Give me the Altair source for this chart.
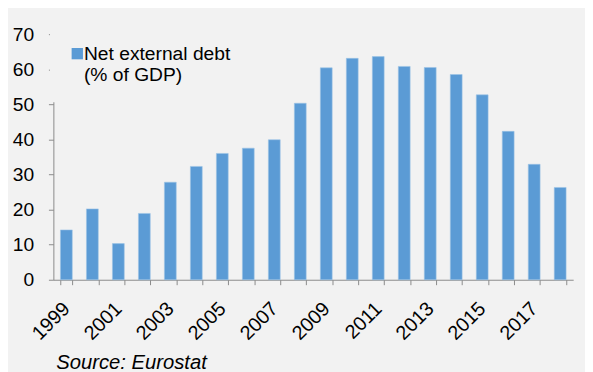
import altair as alt
import pandas as pd

# ---- data ----
years = [str(y) for y in range(1999, 2019)]
debt = [14.2, 20.2, 10.3, 18.9, 27.8, 32.3, 36.0, 37.5, 39.9, 50.3,
        60.4, 63.1, 63.6, 60.8, 60.5, 58.5, 52.7, 42.3, 32.9, 26.3]
series_name = "Net external debt (% of GDP)"
y_ticks = [0, 10, 20, 30, 40, 50, 60, 70]
source_text = "Source: Eurostat"

df = pd.DataFrame({"year": years, "value": debt, "series": [series_name] * len(years)})

FONT = "Liberation Sans"
BG = "#f2f2f2"
BAR = "#5b9bd5"
AXIS = "#8a8a8a"
TXT = "#000000"

chart = alt.Chart(df).mark_bar(color=BAR, stroke="#9cc3e6", strokeWidth=0.6).encode(
    x=alt.X(
        "year:O",
        scale=alt.Scale(paddingInner=0.545, paddingOuter=0.2725),
        axis=alt.Axis(
            title=None,
            labelAngle=-45,
            labelAlign="right",
            labelBaseline="middle",
            labelPadding=21,
            labelExpr="parseInt(datum.value) % 2 == 1 ? datum.label : ''",
            tickBand="extent",
            tickSize=5,
            tickColor=AXIS,
            domainColor=AXIS,
            labelFont=FONT,
            labelFontSize=20,
            labelColor=TXT,
            labelOverlap=False,
            labelBound=False,
        ),
    ),
    y=alt.Y(
        "value:Q",
        scale=alt.Scale(domain=[0, 70], nice=False),
        axis=alt.Axis(
            title=None,
            values=y_ticks,
            grid=False,
            tickSize=5,
            tickColor=AXIS,
            domainColor=AXIS,
            labelPadding=15,
            labelFont=FONT,
            labelFontSize=19.5,
            labelColor=TXT,
        ),
    ),
    color=alt.Color(
        "series:N",
        scale=alt.Scale(range=[BAR]),
        legend=alt.Legend(
            title=None,
            orient="none",
            legendX=-3.5,
            legendY=-8,
            padding=18,
            fillColor=BG,
            symbolType="square",
            symbolSize=132,
            symbolStrokeWidth=0,
            symbolOpacity=1,
            labelFont=FONT,
            labelFontSize=19.5,
            labelColor=TXT,
            labelLimit=0,
            labelOffset={"expr": "-3"},
            labelExpr="[slice(datum.label, 0, 17), slice(datum.label, 18)]",
        ),
    ),
).properties(
    width=527,
    height=249,
    background=BG,
    padding={"left": 46, "top": 24, "right": 12, "bottom": 91},
    autosize=alt.AutoSizeParams(type="none"),
    title=alt.TitleParams(
        source_text,
        orient="bottom",
        anchor="start",
        frame="group",
        font=FONT,
        fontSize=20.5,
        fontStyle="italic",
        fontWeight="normal",
        color=TXT,
        dx=3,
        offset=10,
    ),
).configure_view(stroke=None)

chart.save("out.html", embed_options={"renderer": "svg", "actions": False})
